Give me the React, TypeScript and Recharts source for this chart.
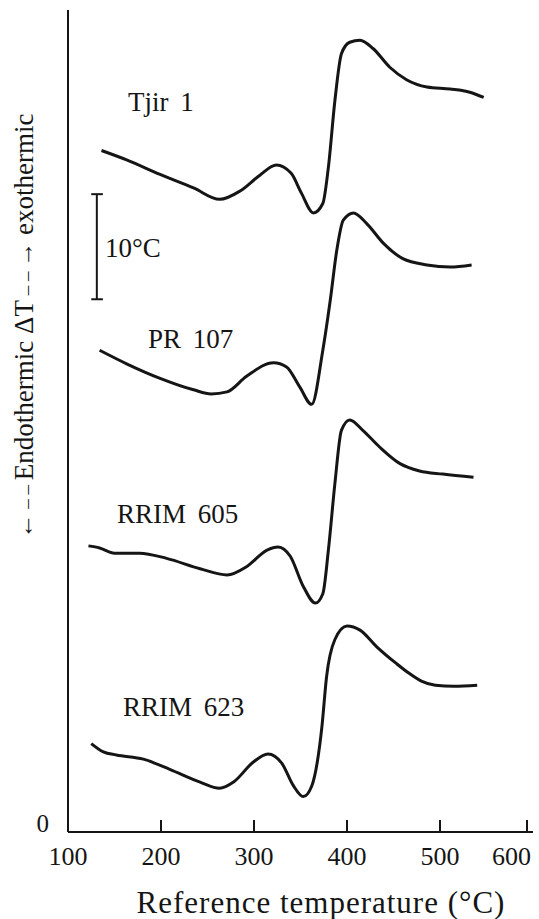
import React from 'react';
import { LineChart, Line, XAxis, YAxis, ReferenceLine } from 'recharts';

// temperature (°C) vs deflection (ΔT units, 0 at the axis)
const tjir1 = [
  { t: 136, v: 65.5 }, { t: 163, v: 64.6 }, { t: 199, v: 63.2 }, { t: 235, v: 61.9 },
  { t: 263, v: 60.8 }, { t: 285, v: 61.6 }, { t: 306, v: 63.1 }, { t: 324, v: 64.1 },
  { t: 340, v: 63.3 }, { t: 351, v: 61.4 }, { t: 364, v: 59.5 }, { t: 374, v: 60.4 },
  { t: 380, v: 63.9 }, { t: 387, v: 70.3 }, { t: 394, v: 74.8 }, { t: 403, v: 75.9 },
  { t: 414, v: 76.1 }, { t: 428, v: 75.3 }, { t: 446, v: 73.5 }, { t: 464, v: 72.3 },
  { t: 486, v: 71.6 }, { t: 511, v: 71.4 }, { t: 532, v: 71.1 }, { t: 547, v: 70.6 },
];

const pr107 = [
  { t: 134, v: 46.3 }, { t: 163, v: 45.0 }, { t: 199, v: 43.6 }, { t: 235, v: 42.5 },
  { t: 254, v: 42.1 }, { t: 271, v: 42.3 }, { t: 292, v: 43.8 }, { t: 321, v: 45.1 },
  { t: 335, v: 44.7 }, { t: 349, v: 42.8 }, { t: 362, v: 41.1 }, { t: 374, v: 46.3 },
  { t: 382, v: 51.1 }, { t: 389, v: 55.9 }, { t: 396, v: 58.8 }, { t: 407, v: 59.5 },
  { t: 421, v: 58.5 }, { t: 439, v: 56.6 }, { t: 460, v: 55.1 }, { t: 486, v: 54.5 },
  { t: 511, v: 54.3 }, { t: 534, v: 54.5 },
];

const rrim605 = [
  { t: 122, v: 27.5 }, { t: 134, v: 27.3 }, { t: 150, v: 26.8 }, { t: 177, v: 26.8 },
  { t: 206, v: 26.3 }, { t: 242, v: 25.3 }, { t: 271, v: 24.7 }, { t: 292, v: 25.5 },
  { t: 314, v: 27.1 }, { t: 326, v: 27.4 }, { t: 339, v: 26.5 }, { t: 353, v: 23.6 },
  { t: 366, v: 22.0 }, { t: 374, v: 22.9 }, { t: 380, v: 27.1 }, { t: 387, v: 33.5 },
  { t: 394, v: 38.6 }, { t: 403, v: 39.6 }, { t: 417, v: 38.6 }, { t: 435, v: 37.0 },
  { t: 457, v: 35.4 }, { t: 478, v: 34.7 }, { t: 503, v: 34.4 }, { t: 536, v: 34.1 },
];

const rrim623 = [
  { t: 125, v: 8.5 }, { t: 138, v: 7.7 }, { t: 152, v: 7.4 }, { t: 181, v: 7.0 },
  { t: 210, v: 6.0 }, { t: 242, v: 4.8 }, { t: 263, v: 4.2 }, { t: 278, v: 4.8 },
  { t: 299, v: 6.7 }, { t: 315, v: 7.5 }, { t: 330, v: 6.6 }, { t: 342, v: 4.5 },
  { t: 353, v: 3.4 }, { t: 362, v: 4.4 }, { t: 373, v: 10.1 }, { t: 378, v: 14.9 },
  { t: 387, v: 18.5 }, { t: 400, v: 19.8 }, { t: 414, v: 19.4 }, { t: 432, v: 17.8 },
  { t: 453, v: 16.2 }, { t: 466, v: 15.3 }, { t: 480, v: 14.5 }, { t: 495, v: 14.1 },
  { t: 515, v: 14.0 }, { t: 540, v: 14.1 },
];

const xTicks = [100, 200, 300, 400, 500, 600];
const yTicks = [0];
const series = [tjir1, pr107, rrim605, rrim623];
const seriesNames = ['Tjir 1', 'PR 107', 'RRIM 605', 'RRIM 623'];
const scaleBar = { t: 131, from: 51.2, to: 61.3, capFrom: 125, capTo: 137.5 };

const INK = '#151515';
const FONT = "'Liberation Serif', 'Times New Roman', Tinos, 'DejaVu Serif', serif";

const XTick = (props: any) => {
  const { x, y, payload } = props;
  const last = payload.value === 600;
  return (
    <g>
      {payload.value !== 100 && (
        <line x1={x} y1={y} x2={x} y2={y - 12} stroke={INK} strokeWidth={2} />
      )}
      <text
        x={last ? x + 4 : x}
        y={y + 33}
        textAnchor={last ? 'end' : 'middle'}
        fontSize={26}
        fill={INK}
        style={{ fontFamily: FONT }}
      >
        {payload.value}
      </text>
    </g>
  );
};

const YTick = (props: any) => {
  const { x, y, payload } = props;
  return (
    <text x={x - 19} y={y} textAnchor="end" fontSize={25} fill={INK} style={{ fontFamily: FONT }}>
      {payload.value}
    </text>
  );
};

const labelPos = [
  { left: 128, top: 110 },
  { left: 148, top: 347 },
  { left: 117, top: 522 },
  { left: 123, top: 715 },
];

const txt: React.CSSProperties = {
  position: 'absolute',
  fontFamily: FONT,
  color: INK,
  whiteSpace: 'nowrap',
  lineHeight: 1,
};

const dash: React.CSSProperties = { fontSize: 19 };
const arrow: React.CSSProperties = { fontSize: 25 };

export default function App() {
  return (
    <div style={{ position: 'absolute', left: 0, top: 0, width: 539, height: 919, background: '#fff', fontFamily: FONT }}>
      <LineChart width={539} height={919} margin={{ top: 10, right: 6, left: 0, bottom: 0 }}>
        <XAxis
          dataKey="t"
          type="number"
          domain={[100, 600]}
          ticks={xTicks}
          height={87}
          tickSize={0}
          tickMargin={0}
          tickLine={false}
          tick={<XTick />}
          axisLine={{ stroke: INK, strokeWidth: 2 }}
          allowDataOverflow
        />
        <YAxis
          type="number"
          domain={[0, 79]}
          ticks={yTicks}
          width={68}
          tickSize={0}
          tickMargin={0}
          tickLine={false}
          tick={<YTick />}
          axisLine={{ stroke: INK, strokeWidth: 2 }}
        />
        <ReferenceLine segment={[{ x: scaleBar.t, y: scaleBar.from }, { x: scaleBar.t, y: scaleBar.to }]} stroke={INK} strokeWidth={2} />
        <ReferenceLine segment={[{ x: scaleBar.capFrom, y: scaleBar.to }, { x: scaleBar.capTo, y: scaleBar.to }]} stroke={INK} strokeWidth={2} />
        <ReferenceLine segment={[{ x: scaleBar.capFrom, y: scaleBar.from }, { x: scaleBar.capTo, y: scaleBar.from }]} stroke={INK} strokeWidth={2} />
        {series.map((d, i) => (
          <Line
            key={seriesNames[i]}
            data={d}
            dataKey="v"
            name={seriesNames[i]}
            type="monotone"
            stroke={INK}
            strokeWidth={3}
            dot={false}
            isAnimationActive={false}
          />
        ))}
      </LineChart>

      {seriesNames.map((n, i) => (
        <div key={n} style={{ ...txt, left: labelPos[i].left, top: labelPos[i].top - 21, fontSize: 27, wordSpacing: 5 }}>
          {n}
        </div>
      ))}

      <div style={{ ...txt, left: 105, top: 256 - 21, fontSize: 27 }}>10°C</div>

      <div
        style={{
          ...txt,
          left: 24,
          top: 326,
          fontSize: 27,
          transform: 'translate(-50%, -50%) rotate(-90deg)',
        }}
      >
        <span style={arrow}>←</span><span style={dash}> – – </span>Endothermic ΔT<span style={dash}> – – </span><span style={arrow}>→</span> exothermic
      </div>

      <div style={{ ...txt, left: 321, top: 912 - 25, fontSize: 31, transform: 'translateX(-50%)', letterSpacing: 1 }}>
        Reference temperature (°C)
      </div>
    </div>
  );
}
